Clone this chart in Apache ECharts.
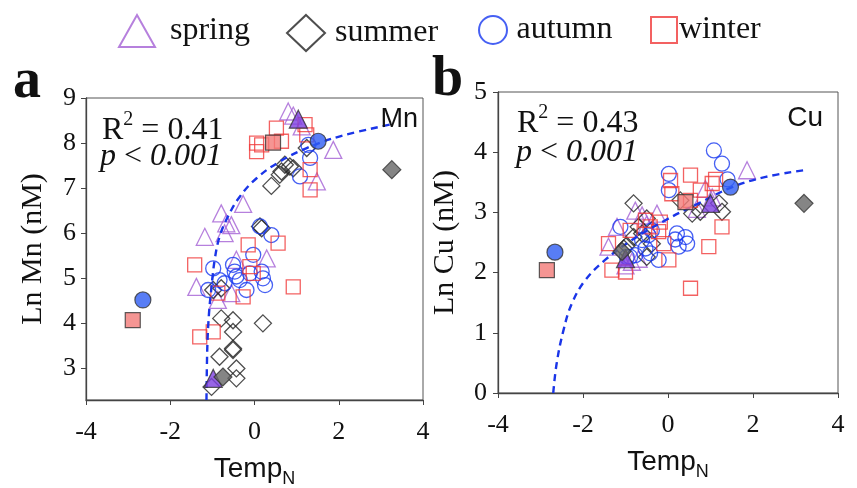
<!DOCTYPE html>
<html><head><meta charset="utf-8">
<script src="https://cdn.jsdelivr.net/npm/echarts@6/dist/echarts.min.js"></script>
<style>html,body{margin:0;padding:0;background:#fff}#c{width:857px;height:488px}</style>
</head><body><div id="c"></div>
<script>
// ---------- data ----------
const seasons = ['spring', 'summer', 'autumn', 'winter'];
const xTicks = [-4, -2, 0, 2, 4];
const mnTicks = [3, 4, 5, 6, 7, 8, 9];
const cuTicks = [0, 1, 2, 3, 4, 5];

// Panel a: Ln Mn vs Temp_N
const springMn = [[0.80,8.70],[0.92,8.61],[1.12,8.37],[1.87,7.85],[1.48,7.15],[-0.27,6.65],[-0.79,6.44],[-0.67,6.22],[-0.55,6.18],[-0.71,6.00],[-1.18,5.92],[0.29,5.44],[-0.43,5.41],[-1.38,4.81],[-0.87,4.52],[-0.55,4.67]];
const springMnMark = [[1.04,8.53],[-0.98,2.78]];
const summerMn = [[1.24,7.89],[0.72,7.52],[0.84,7.48],[0.64,7.37],[0.92,7.44],[0.60,7.30],[0.40,7.05],[0.13,6.15],[0.17,6.11],[-0.79,4.11],[-0.51,4.07],[-0.51,3.81],[0.20,4.00],[-0.83,3.26],[-0.51,3.44],[-0.51,3.41],[-0.43,3.00],[-0.43,2.78],[-1.02,2.59],[-0.98,4.74],[-0.79,4.78]];
const summerMnMark = [[3.26,7.41],[-0.75,2.81]];
const autumnMn = [[1.28,7.96],[1.32,7.67],[1.08,7.26],[0.13,6.15],[0.40,5.96],[-0.03,5.52],[-0.51,5.30],[-0.98,5.22],[-0.47,5.15],[-0.43,5.04],[0.17,5.15],[0.20,5.00],[0.25,4.85],[-0.19,4.74],[-0.83,4.96],[-0.71,4.89],[-1.10,4.74],[-0.35,4.96],[-0.11,5.11]];
const autumnMnMark = [[1.51,8.04],[-2.65,4.52]];
const winterMn = [[0.52,8.33],[1.20,8.41],[1.24,8.18],[0.64,8.04],[0.05,8.00],[0.17,7.96],[0.05,7.81],[1.32,7.41],[1.32,6.96],[-0.15,5.74],[0.56,5.78],[-1.42,5.30],[-0.11,5.26],[-0.03,5.11],[0.92,4.81],[-0.27,4.59],[-0.98,3.81],[-1.30,3.70],[-0.87,4.67]];
const winterMnMark = [[0.44,8.01],[-2.89,4.07]];
const fitMn = [[-1.14,2.3],[-1.12,3.48],[-1.08,4.22],[-1.02,4.81],[-0.945,5.41],[-0.83,5.92],[-0.63,6.37],[-0.35,6.81],[0.05,7.22],[0.60,7.59],[1.24,7.89],[2.03,8.15],[3.22,8.41]];

// Panel b: Ln Cu vs Temp_N
const springCu = [[1.86,3.70],[0.88,3.39],[1.04,3.25],[-0.77,3.03],[-0.61,2.95],[-1.20,2.76],[-1.40,2.43],[-1.00,2.12],[-0.85,2.18],[-0.26,2.98],[0.68,3.06],[-0.69,2.23],[-0.50,2.80]];
const springCuMark = [[-1.00,2.23],[1.00,3.15]];
const summerCu = [[-0.81,3.15],[-0.50,2.90],[-0.69,2.76],[-0.81,2.59],[-1.04,2.40],[-0.50,2.26],[0.57,2.98],[0.76,3.01],[1.27,3.01],[1.20,3.15],[-0.61,2.65],[-0.38,2.48],[0.29,3.20],[-0.97,2.45]];
const summerCuMark = [[3.20,3.15],[-1.08,2.35]];
const autumnCu = [[1.08,4.03],[1.27,3.81],[1.40,3.55],[0.02,3.64],[0.02,3.37],[-1.12,2.76],[-0.61,2.54],[-0.46,2.62],[0.21,2.65],[0.41,2.59],[0.45,2.48],[0.25,2.43],[-0.22,2.21],[-0.77,2.29],[-0.53,2.40],[-0.89,2.26],[-0.42,2.32],[0.17,2.55],[-0.38,2.70],[-0.97,2.26]];
const autumnCuMark = [[1.47,3.42],[-2.66,2.34]];
const winterCu = [[0.53,3.62],[0.06,3.53],[0.09,3.31],[1.04,3.48],[1.12,3.55],[0.53,3.20],[-0.18,2.84],[-0.22,2.68],[-0.42,2.76],[-1.40,2.48],[-0.10,2.48],[0.02,2.21],[-1.32,2.04],[-1.00,2.01],[1.27,2.76],[0.96,2.43],[0.53,1.74],[-0.89,2.70],[0.76,3.37],[-0.53,2.87]];
const winterCuMark = [[0.41,3.17],[-2.85,2.04]];
const fitCu = [[-2.70,0],[-2.62,0.49],[-2.46,1.04],[-2.26,1.49],[-1.95,1.87],[-1.48,2.21],[-0.85,2.54],[-0.06,2.87],[0.72,3.15],[1.51,3.42],[2.30,3.59],[3.20,3.70]];

// ---------- styling ----------
const SERIF = 'Liberation Serif';
const SANS = 'Liberation Sans';
const sty = {
  spring: {symbol: 'triangle', size: 17, stroke: '#a460d4', fill: '#7d3ee0'},
  summer: {symbol: 'diamond', size: 17, stroke: '#222222', fill: '#666666'},
  autumn: {symbol: 'circle', size: 15, stroke: '#1838f0', fill: '#2e5cf2'},
  winter: {symbol: 'rect', size: 14, stroke: '#f03a3a', fill: '#f27a78'}
};
const panels = [
  {open: {spring: springMn, summer: summerMn, autumn: autumnMn, winter: winterMn},
   mark: {spring: springMnMark, summer: summerMnMark, autumn: autumnMnMark, winter: winterMnMark}, fit: fitMn},
  {open: {spring: springCu, summer: summerCu, autumn: autumnCu, winter: winterCu},
   mark: {spring: springCuMark, summer: summerCuMark, autumn: autumnCuMark, winter: winterCuMark}, fit: fitCu}
];

const series = [];
panels.forEach((p, i) => {
  seasons.forEach(s => {
    series.push({
      type: 'scatter', name: s, xAxisIndex: i, yAxisIndex: i, data: p.open[s],
      symbol: sty[s].symbol, symbolSize: sty[s].size, z: 2,
      itemStyle: {color: 'rgba(255,255,255,0)', borderColor: sty[s].stroke, borderWidth: 1.3}
    });
  });
  series.push({
    type: 'line', name: 'fit' + i, xAxisIndex: i, yAxisIndex: i, data: p.fit,
    showSymbol: false, smooth: 0.4, z: 3, clip: true,
    lineStyle: {color: '#1a35e8', width: 2.4, type: [7, 5]}
  });
  seasons.forEach(s => {
    series.push({
      type: 'scatter', name: s + ' mark', xAxisIndex: i, yAxisIndex: i, data: p.mark[s],
      symbol: sty[s].symbol, symbolSize: sty[s].size + 1, z: 4,
      itemStyle: {color: sty[s].fill, borderColor: '#333', borderWidth: 1.2}
    });
  });
});

const axisLine = {show: true, onZero: false, lineStyle: {color: '#444', width: 1.3}};
const tickLbl = {fontFamily: SERIF, fontSize: 26, color: '#111'};
function xAx(gi) {
  return {
    type: 'value', gridIndex: gi, min: -4, max: 4, interval: 2,
    axisLine, axisTick: {show: true, inside: false, length: 5, lineStyle: {color: '#444'}},
    axisLabel: Object.assign({margin: 19}, tickLbl), splitLine: {show: false},
    name: '{m|Temp}{s|N}', nameLocation: 'middle', nameGap: 47,
    nameTextStyle: {rich: {
      m: {fontFamily: SANS, fontSize: 28, color: '#111', lineHeight: 38},
      s: {fontFamily: SANS, fontSize: 18, color: '#111', padding: [20, 0, 0, 0], lineHeight: 18}
    }}
  };
}
function yAx(gi, min, max, ticks, name, gap, margin) {
  return {
    type: 'value', gridIndex: gi, min, max,
    axisLine, axisTick: {show: true, length: 5, customValues: ticks, lineStyle: {color: '#444'}},
    axisLabel: Object.assign({margin, customValues: ticks}, tickLbl), splitLine: {show: false},
    name, nameLocation: 'middle', nameGap: gap,
    nameTextStyle: {fontFamily: SERIF, fontSize: 30, color: '#111'}
  };
}

const statRich = {
  n: {fontFamily: SERIF, fontSize: 32, color: '#111', lineHeight: 40},
  i: {fontFamily: SERIF, fontSize: 32, fontStyle: 'italic', color: '#111', lineHeight: 40},
  u: {fontFamily: SERIF, fontSize: 20, color: '#111', padding: [0, 0, 22, 0], lineHeight: 20}
};
function txt(left, top, text) {
  return {type: 'text', left, top, z: 10, style: {text, rich: statRich, fill: '#111'}};
}
function leg(name, left, w, h, pad) {
  return {
    data: [name], top: 9, left, itemWidth: w, itemHeight: h,
    textStyle: {fontFamily: SERIF, fontSize: 32, color: '#111', padding: [0, 0, 0, pad]},
    itemStyle: {borderWidth: 2}
  };
}

const option = {
  animation: false,
  backgroundColor: '#fff',
  legend: [
    leg('spring', 113, 36, 32, 10),
    leg('summer', 281, 38, 36, 5),
    leg('autumn', 473, 35, 28, 1),
    leg('winter', 645, 26, 26, -3)
  ],
  grid: [
    {left: 86, top: 98, width: 337, height: 302, show: true, borderColor: '#555', borderWidth: 1,
     backgroundColor: 'transparent', containLabel: false, outerBoundsMode: 'none'},
    {left: 498, top: 92, width: 340, height: 301, show: true, borderColor: '#555', borderWidth: 1,
     backgroundColor: 'transparent', containLabel: false, outerBoundsMode: 'none'}
  ],
  xAxis: [xAx(0), xAx(1)],
  yAxis: [yAx(0, 2.3, 9, mnTicks, 'Ln Mn (nM)', 38, 10), yAx(1, 0, 5, cuTicks, 'Ln Cu (nM)', 38, 11)],
  graphic: [
    {type: 'text', left: 13, top: 55, style: {text: 'a', font: 'bold 56px "Liberation Serif"', fill: '#111'}},
    {type: 'text', left: 432, top: 53, style: {text: 'b', font: 'bold 56px "Liberation Serif"', fill: '#111'}},
    txt(102, 110, '{n|R}{u|2}{n| = 0.41}'),
    txt(100, 141, '{i|p}{n| < }{i|0.001}'),
    txt(517, 103, '{n|R}{u|2}{n| = 0.43}'),
    txt(516, 137, '{i|p}{n| < }{i|0.001}'),
    {type: 'text', right: 857 - 418, top: 106, z: 10, style: {text: 'Mn', font: '27px "Liberation Sans"', fill: '#111'}},
    {type: 'text', right: 857 - 823, top: 104, z: 10, style: {text: 'Cu', font: '28px "Liberation Sans"', fill: '#111'}}
  ],
  series
};
const chart = echarts.init(document.getElementById('c'), null, {renderer: 'canvas'});
chart.setOption(option);
</script></body></html>
